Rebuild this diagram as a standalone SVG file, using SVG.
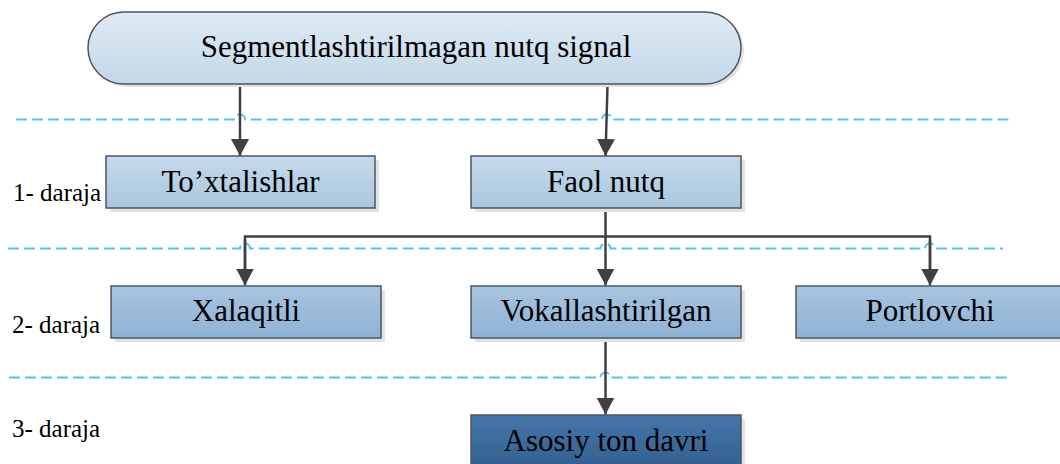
<svg xmlns="http://www.w3.org/2000/svg" width="1060" height="464" viewBox="0 0 1060 464">
  <defs>
    <linearGradient id="gPill" x1="0" y1="0" x2="0" y2="1">
      <stop offset="0" stop-color="#e0ebf4"/>
      <stop offset="1" stop-color="#c3d7e8"/>
    </linearGradient>
    <linearGradient id="gLight" x1="0" y1="0" x2="0" y2="1">
      <stop offset="0" stop-color="#c6d9eb"/>
      <stop offset="1" stop-color="#a9c6df"/>
    </linearGradient>
    <linearGradient id="gMid" x1="0" y1="0" x2="0" y2="1">
      <stop offset="0" stop-color="#a9c5e0"/>
      <stop offset="1" stop-color="#8fb2d5"/>
    </linearGradient>
    <linearGradient id="gDark" x1="0" y1="0" x2="0" y2="1">
      <stop offset="0" stop-color="#4576aa"/>
      <stop offset="1" stop-color="#33608f"/>
    </linearGradient>
    <!-- filled triangular arrowhead, drawn pointing along +x -->
    <marker id="arrow" viewBox="0 0 17 18" refX="17" refY="9" markerWidth="17" markerHeight="18" markerUnits="userSpaceOnUse" orient="auto">
      <path d="M0,0 L17,9 L0,18 Z" fill="#404040"/>
    </marker>
    <style>
      .box { stroke: #4b5561; stroke-width: 1.5; }
      .shadow { fill: #e2e2e2; }
      .label { font-family: "Liberation Serif", "Times New Roman", serif; font-size: 31px; fill: #000; text-anchor: middle; }
      .level { font-family: "Liberation Serif", "Times New Roman", serif; font-size: 25px; fill: #000; }
      .guide { fill: none; stroke: #4fc4ef; stroke-width: 2; stroke-dasharray: 11 5; }
      .conn { fill: none; stroke: #404040; stroke-width: 2.5; }
      .arrowed { marker-end: url(#arrow); }
    </style>
  </defs>

  <!-- level guide lines with hops where connectors cross -->
  <g id="guides">
    <path class="guide" d="M16,119.5 H235 A5,5 0 0 1 245,119.5 H602 A5,5 0 0 1 612,119.5 H1013"/>
    <path class="guide" d="M8,248.5 H240 A5,5 0 0 1 250,248.5 H600.5 A5,5 0 0 1 610.5,248.5 H925 A5,5 0 0 1 935,248.5 H1003"/>
    <path class="guide" d="M9,377.5 H600.5 A5,5 0 0 1 610.5,377.5 H1007"/>
  </g>

  <!-- level captions -->
  <g id="levels">
    <text class="level" x="13" y="201">1- daraja</text>
    <text class="level" x="12" y="333">2- daraja</text>
    <text class="level" x="12" y="437">3- daraja</text>
  </g>

  <!-- connectors -->
  <g id="connectors">
    <path class="conn arrowed" d="M240,85 L240,156"/>
    <path class="conn arrowed" d="M607.5,85 L605.5,156"/>
    <path class="conn" d="M605.5,208 V236.5"/>
    <path class="conn" d="M245,270 V236.5 H930 V270"/>
    <path class="conn arrowed" d="M245,240 V285.5"/>
    <path class="conn arrowed" d="M605.5,236.5 V285.5"/>
    <path class="conn arrowed" d="M930,240 V285.5"/>
    <path class="conn arrowed" d="M605.5,338 V414.5"/>
  </g>

  <!-- nodes -->
  <g id="node-signal">
    <rect x="91" y="15" width="653" height="72" rx="36" class="shadow"/>
    <rect x="88" y="12" width="653" height="72" rx="36" fill="url(#gPill)" class="box"/>
    <text class="label" x="416" y="57">Segmentlashtirilmagan nutq signal</text>
  </g>

  <g id="node-toxtalishlar">
    <rect x="110" y="160" width="269" height="52" class="shadow"/>
    <rect x="106" y="156" width="269" height="52" fill="url(#gLight)" class="box"/>
    <text class="label" x="240.5" y="192">To’xtalishlar</text>
  </g>

  <g id="node-faol">
    <rect x="475" y="160" width="270" height="52" class="shadow"/>
    <rect x="471" y="156" width="270" height="52" fill="url(#gLight)" class="box"/>
    <text class="label" x="606" y="192">Faol nutq</text>
  </g>

  <g id="node-xalaqitli">
    <rect x="115" y="290" width="270" height="52" class="shadow"/>
    <rect x="111" y="286" width="270" height="52" fill="url(#gMid)" class="box"/>
    <text class="label" x="246" y="321">Xalaqitli</text>
  </g>

  <g id="node-vokal">
    <rect x="475" y="290" width="270" height="52" class="shadow"/>
    <rect x="471" y="286" width="270" height="52" fill="url(#gMid)" class="box"/>
    <text class="label" x="606" y="321">Vokallashtirilgan</text>
  </g>

  <g id="node-portlovchi">
    <rect x="800" y="290" width="270" height="52" class="shadow"/>
    <rect x="796" y="286" width="270" height="52" fill="url(#gMid)" class="box"/>
    <text class="label" x="930" y="321">Portlovchi</text>
  </g>

  <g id="node-asosiy">
    <rect x="475" y="419" width="270" height="52" class="shadow"/>
    <rect x="471" y="415" width="270" height="52" fill="url(#gDark)" class="box"/>
    <text class="label" x="606" y="451">Asosiy ton davri</text>
  </g>
</svg>
